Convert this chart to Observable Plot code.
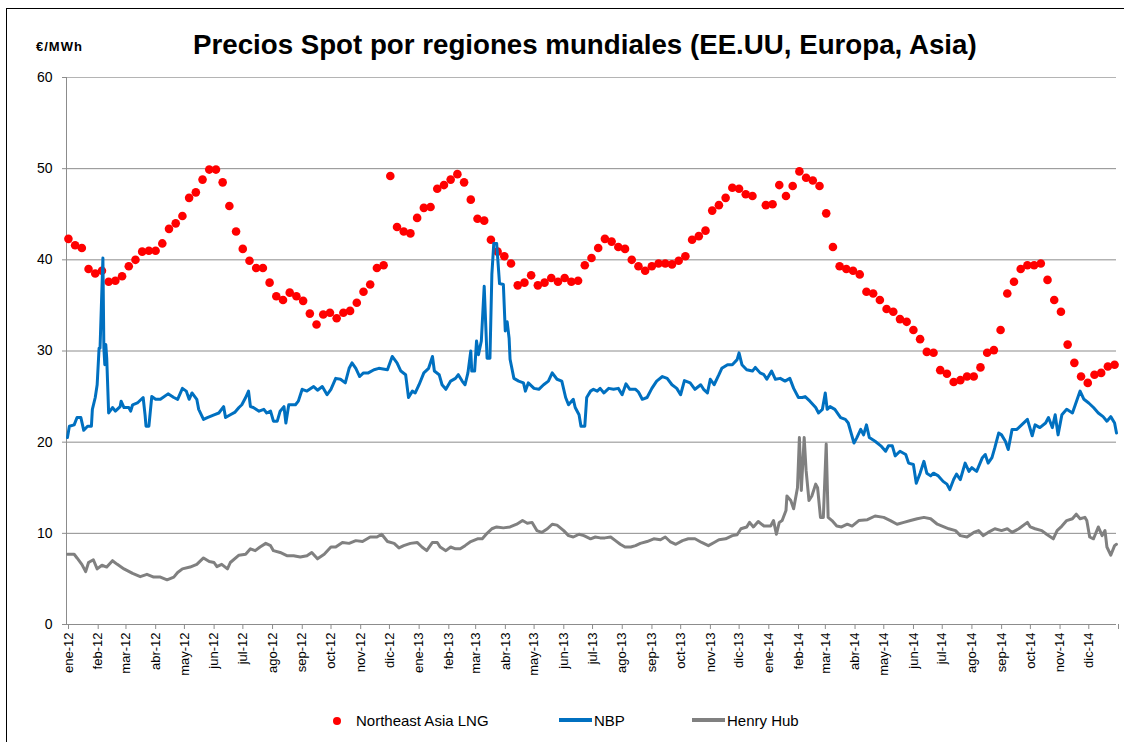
<!DOCTYPE html>
<html><head><meta charset="utf-8">
<script src="https://cdn.jsdelivr.net/npm/d3@7"></script>
<script src="https://cdn.jsdelivr.net/npm/@observablehq/plot@0.6"></script>
<style>
html,body{margin:0;padding:0;background:#fff;overflow:hidden;}
#wrap{position:relative;width:1124px;height:742px;overflow:hidden;font-family:"Liberation Sans",Arial,sans-serif;color:#000;}
#frame{position:absolute;left:6px;top:8px;width:1140px;height:760px;border:1px solid #000;box-sizing:border-box;}
#title{position:absolute;left:193px;top:29px;line-height:32px;font-size:27.7px;font-weight:bold;white-space:nowrap;}
#unit{position:absolute;left:36px;top:39px;line-height:16px;font-size:13px;font-weight:bold;letter-spacing:1px;}
#chart{position:absolute;left:0;top:0;}
.lg{position:absolute;font-size:15px;line-height:18px;top:712px;white-space:nowrap;}
.ln{position:absolute;height:4px;top:718px;}
.dt{position:absolute;width:8px;height:8px;border-radius:50%;background:#ff0000;left:333px;top:717px;}
</style></head><body>
<div id="wrap">
 <div id="frame"></div>
 <div id="chart"></div>
 <div id="title">Precios Spot por regiones mundiales (EE.UU, Europa, Asia)</div>
 <div id="unit">€/MWh</div>
 <div class="dt"></div><div class="lg" style="left:356px">Northeast Asia LNG</div>
 <div class="ln" style="left:559px;width:33px;background:#0070c0"></div><div class="lg" style="left:594px">NBP</div>
 <div class="ln" style="left:692px;width:33px;background:#808080"></div><div class="lg" style="left:727px">Henry Hub</div>
</div>
<script>
// Month tick labels (Spanish)
const monthNames = ["ene","feb","mar","abr","may","jun","jul","ago","sep","oct","nov","dic"];
const yTicks = [0,10,20,30,40,50,60];

// Northeast Asia LNG, weekly from 2012-01-03 (null = no quote)
const lngValues = [
 42.3,41.6,41.3,39.0,38.5,38.8,37.6,37.7,38.2,39.3,
 40.0,40.9,41.0,41.0,41.8,43.4,44.0,44.8,46.8,47.4,
 48.8,49.9,49.9,48.5,45.9,43.1,41.2,39.9,39.1,39.1,
 37.5,36.0,35.6,36.4,36.0,35.5,34.1,32.9,34.0,34.2,
 33.6,34.2,34.4,35.3,36.5,37.3,39.1,39.4,49.2,43.6,
 43.1,42.9,44.6,45.7,45.8,47.8,48.2,48.8,49.4,48.5,
 46.6,44.5,44.3,42.2,40.9,40.4,39.6,37.2,37.5,38.3,
 37.2,37.5,38.0,37.6,38.0,37.6,37.7,39.4,40.2,41.3,
 42.3,42.0,41.4,41.2,40.0,39.3,38.8,39.3,39.6,39.6,
 39.5,39.9,40.4,42.2,42.6,43.2,45.4,46.0,46.8,47.9,
 47.8,47.2,47.0,null,46.0,46.1,48.2,47.0,48.1,49.7,
 49.0,48.7,48.1,45.1,41.4,39.3,39.0,38.8,38.4,36.5,
 36.3,35.6,34.6,34.3,33.5,33.2,32.3,31.3,29.9,29.8,
 27.9,27.5,26.6,26.8,27.2,27.2,28.2,29.8,30.1,32.3,
 36.3,37.6,39.0,39.4,39.4,39.6,37.8,35.6,34.3,30.7,
 28.7,27.2,26.5,27.4,27.6,28.3,28.5];

// NBP: [day since 2012-01-01, €/MWh]
const nbp = [
 [1,20.5],[3,21.75],[8,21.9],[11,22.7],[15,22.7],[18,21.3],[22,21.75],[26,21.75],[27,23.6],[30,24.9],
 [32,26.3],[34,30.3],[35,30.3],[38,40.2],[39,30.3],[40,28.5],[41,30.7],[42,29.2],[44,23.2],[48,23.8],
 [51,23.4],[56,23.9],[57,24.5],[60,23.8],[65,23.8],[67,23.4],[69,24.1],[74,24.3],[80,24.9],[82,23.0],
 [83,21.75],[86,21.75],[89,25.0],[93,24.7],[98,24.7],[106,25.3],[112,24.9],[116,24.7],[121,25.9],[125,25.6],
 [128,24.7],[131,25.4],[136,24.7],[138,23.6],[143,22.5],[147,22.7],[154,23.0],[159,23.2],[164,23.9],[166,22.7],
 [171,23.0],[176,23.3],[180,23.8],[183,24.1],[187,24.9],[190,25.6],[192,23.9],[195,23.8],[201,23.4],[206,23.6],
 [209,23.2],[213,23.4],[216,22.3],[220,22.3],[223,23.4],[227,23.9],[229,22.1],[232,24.1],[239,24.1],[242,24.5],
 [246,25.8],[251,25.6],[258,26.1],[262,25.7],[267,26.1],[272,25.2],[276,25.8],[281,27.0],[286,26.9],[291,26.5],
 [295,28.1],[298,28.7],[302,28.1],[306,27.2],[310,27.6],[315,27.6],[321,27.95],[326,28.1],[335,27.95],[340,29.4],
 [345,28.7],[349,27.8],[354,27.4],[357,24.9],[361,25.6],[364,25.4],[368,26.3],[373,27.6],[378,28.1],[382,29.4],
 [384,27.8],[389,27.4],[392,26.3],[396,25.8],[401,26.7],[406,27.0],[409,27.4],[413,26.7],[416,26.3],[419,27.6],
 [422,30.0],[423,27.8],[426,27.8],[428,31.1],[430,29.6],[433,31.1],[436,37.1],[439,29.2],[442,29.2],[444,38.4],
 [446,41.8],[449,41.8],[452,37.4],[456,37.3],[458,32.2],[460,33.2],[462,31.4],[463,29.1],[467,27.0],[472,26.7],
 [477,26.5],[479,25.6],[482,26.5],[488,25.9],[493,25.8],[498,26.3],[503,26.7],[507,27.6],[512,26.9],[517,26.7],
 [521,24.9],[524,24.1],[529,24.7],[531,23.8],[535,23.0],[537,21.75],[541,21.75],[543,24.9],[547,25.6],[550,25.8],
 [554,25.6],[557,25.9],[561,25.4],[566,25.9],[571,25.8],[576,25.9],[580,25.2],[584,26.4],[588,25.8],[594,25.8],
 [597,25.5],[601,24.7],[606,24.9],[611,25.9],[616,26.7],[622,27.2],[627,27.0],[632,26.3],[637,25.9],[641,25.2],
 [645,26.75],[651,26.5],[656,25.8],[662,26.3],[665,25.8],[669,25.4],[672,26.9],[676,26.3],[681,27.4],[684,28.1],
 [690,28.5],[695,28.5],[700,29.05],[702,29.8],[705,28.5],[710,27.95],[716,27.8],[719,28.2],[724,27.6],[728,27.4],
 [731,26.9],[736,27.8],[740,26.9],[745,27.0],[750,26.7],[755,27.0],[759,25.9],[764,24.9],[768,24.9],[771,25.0],
 [776,24.5],[782,23.8],[785,23.2],[789,23.6],[792,25.4],[794,23.6],[797,23.9],[802,23.6],[808,22.7],[813,22.5],
 [816,22.1],[822,19.9],[825,20.5],[829,21.4],[832,20.8],[835,21.9],[838,20.5],[844,20.1],[850,19.6],[855,19.0],
 [858,19.6],[862,19.6],[865,18.5],[870,19.0],[876,18.65],[879,17.7],[884,17.55],[887,15.5],[891,16.6],[895,17.9],
 [898,16.6],[902,16.3],[905,16.6],[910,16.3],[915,15.7],[919,15.4],[922,14.8],[926,15.9],[929,16.5],[933,15.9],
 [938,17.7],[942,16.8],[945,17.2],[950,16.8],[956,18.3],[959,18.65],[962,17.7],[966,18.3],[969,19.4],[973,21.0],
 [976,20.8],[980,20.1],[983,19.2],[987,21.4],[992,21.4],[997,21.9],[1003,22.5],[1008,20.7],[1011,21.9],[1016,21.6],
 [1022,22.1],[1025,22.7],[1029,21.6],[1032,23.0],[1035,20.8],[1039,23.0],[1044,23.6],[1050,23.2],[1053,24.1],[1058,25.6],
 [1062,24.7],[1067,24.3],[1072,23.8],[1077,23.2],[1082,22.8],[1086,22.3],[1090,22.8],[1094,22.1],[1096,21.0]];

// Henry Hub: [day since 2012-01-01, €/MWh]
const hh = [
 [1,7.7],[8,7.7],[11,7.3],[16,6.6],[20,5.8],[23,6.8],[28,7.1],[32,6.1],[37,6.5],[42,6.3],
 [48,7.0],[53,6.6],[60,6.1],[69,5.6],[77,5.25],[84,5.5],[91,5.2],[98,5.2],[105,4.9],[112,5.2],
 [116,5.7],[121,6.1],[129,6.3],[136,6.6],[143,7.3],[149,6.9],[154,6.8],[157,6.35],[162,6.6],[168,6.1],
 [171,6.8],[180,7.6],[187,7.7],[192,8.3],[197,8.1],[202,8.5],[208,8.9],[213,8.65],[216,8.1],[223,7.9],
 [230,7.55],[237,7.55],[244,7.4],[251,7.55],[256,7.9],[262,7.2],[269,7.7],[276,8.5],[281,8.5],[288,9.0],
 [295,8.9],[302,9.2],[309,9.1],[317,9.6],[324,9.6],[329,9.9],[335,9.1],[342,8.9],[347,8.4],[352,8.65],
 [359,8.9],[366,9.0],[371,8.5],[376,8.1],[382,9.0],[387,9.0],[390,8.5],[396,8.1],[401,8.5],[406,8.3],
 [411,8.3],[416,8.65],[422,9.1],[429,9.4],[434,9.4],[439,10.0],[444,10.5],[449,10.7],[456,10.6],[463,10.7],
 [470,11.0],[476,11.4],[481,11.1],[486,11.2],[491,10.3],[496,10.1],[502,10.5],[507,11.0],[512,10.9],[519,10.3],
 [524,9.75],[529,9.6],[535,9.9],[540,9.75],[547,9.4],[552,9.6],[557,9.5],[562,9.5],[568,9.6],[573,9.2],
 [578,8.8],[583,8.5],[589,8.5],[594,8.65],[599,8.9],[606,9.1],[613,9.4],[620,9.3],[625,9.6],[630,9.1],
 [636,8.8],[643,9.2],[649,9.4],[656,9.4],[663,9.0],[670,8.65],[676,9.0],[681,9.3],[688,9.4],[695,9.75],
 [700,9.85],[704,10.5],[710,10.7],[713,11.2],[717,10.7],[722,11.3],[728,10.8],[735,10.8],[738,11.4],[741,9.9],
 [744,11.2],[747,11.4],[751,12.5],[752,14.1],[756,13.6],[759,12.7],[763,15.0],[765,20.5],[767,14.7],[770,20.5],
 [772,16.9],[775,13.6],[778,14.1],[782,15.4],[784,15.0],[787,11.75],[790,11.75],[793,19.8],[795,11.75],[799,11.4],
 [804,10.8],[809,10.7],[815,11.0],[820,10.8],[827,11.4],[836,11.5],[844,11.9],[853,11.75],[860,11.4],[867,11.0],
 [874,11.2],[881,11.4],[888,11.6],[895,11.75],[902,11.6],[909,11.0],[914,10.8],[921,10.5],[928,10.3],[933,9.75],
 [940,9.6],[947,10.1],[952,10.3],[957,9.75],[962,10.1],[969,10.5],[976,10.3],[982,10.5],[987,10.1],[994,10.5],
 [1003,11.2],[1006,10.7],[1011,10.5],[1018,10.3],[1023,9.9],[1030,9.4],[1034,10.3],[1039,10.8],[1044,11.4],[1050,11.6],
 [1054,12.1],[1058,11.6],[1063,11.75],[1065,11.4],[1068,9.6],[1072,9.4],[1077,10.7],[1081,9.75],[1084,10.3],[1086,8.5],
 [1090,7.6],[1094,8.65],[1096,8.8]];

const base = Date.UTC(2012,0,1);
const dayToDate = d => new Date(base + d * 864e5);
const lngData = lngValues.map((v,i)=>({date:new Date(Date.UTC(2012,0,3+7*i)), value:v})).filter(d=>d.value!=null);
const nbpData = nbp.map(([d,v])=>({date:dayToDate(d), value:v}));
const hhData = hh.map(([d,v])=>({date:dayToDate(d), value:v}));
const x0 = new Date(Date.UTC(2012,0,1)), x1 = new Date(Date.UTC(2015,0,1));
const monthTicks = d3.utcMonths(x0, new Date(Date.UTC(2015,0,2)));
const fmt = d => d.getUTCFullYear() >= 2015 ? "" : monthNames[d.getUTCMonth()] + "-" + String(d.getUTCFullYear()).slice(2);
const grid = "#8c8c8c";

const chart = Plot.plot({
  width: 1124, height: 700,
  marginTop: 77, marginBottom: 76, marginLeft: 66, marginRight: 8,
  x: {type: "utc", domain: [x0, x1]},
  y: {domain: [0, 60]},
  style: {fontFamily: "'Liberation Sans', Arial, sans-serif", color: "#000", background: "transparent", overflow: "visible"},
  marks: [
    Plot.ruleY(yTicks.filter(v => v > 0 && v < 60), {stroke: grid, strokeWidth: 1}),
    Plot.ruleY([60], {stroke: "#b4b4b4", strokeWidth: 1}),
    Plot.axisY({ticks: yTicks, tickSize: 4, tickPadding: 10, fontSize: 14, stroke: grid, fill: "#000", label: null}),
    Plot.axisX({ticks: monthTicks, tickFormat: fmt, tickRotate: -90, tickSize: 5, tickPadding: 3, fontSize: 13, stroke: grid, fill: "#000", label: null, dx: 2}),
    Plot.ruleX([x0], {stroke: grid, strokeWidth: 1}),
    Plot.ruleY([0], {stroke: grid, strokeWidth: 1}),
    Plot.dot(lngData, {x: "date", y: "value", r: 4.3, fill: "#ff0000", stroke: "none"}),
    Plot.line(nbpData, {x: "date", y: "value", stroke: "#0070c0", strokeWidth: 3, strokeLinejoin: "round"}),
    Plot.line(hhData, {x: "date", y: "value", stroke: "#808080", strokeWidth: 3, strokeLinejoin: "round"})
  ]
});
document.getElementById("chart").appendChild(chart);
</script>
</body></html>
